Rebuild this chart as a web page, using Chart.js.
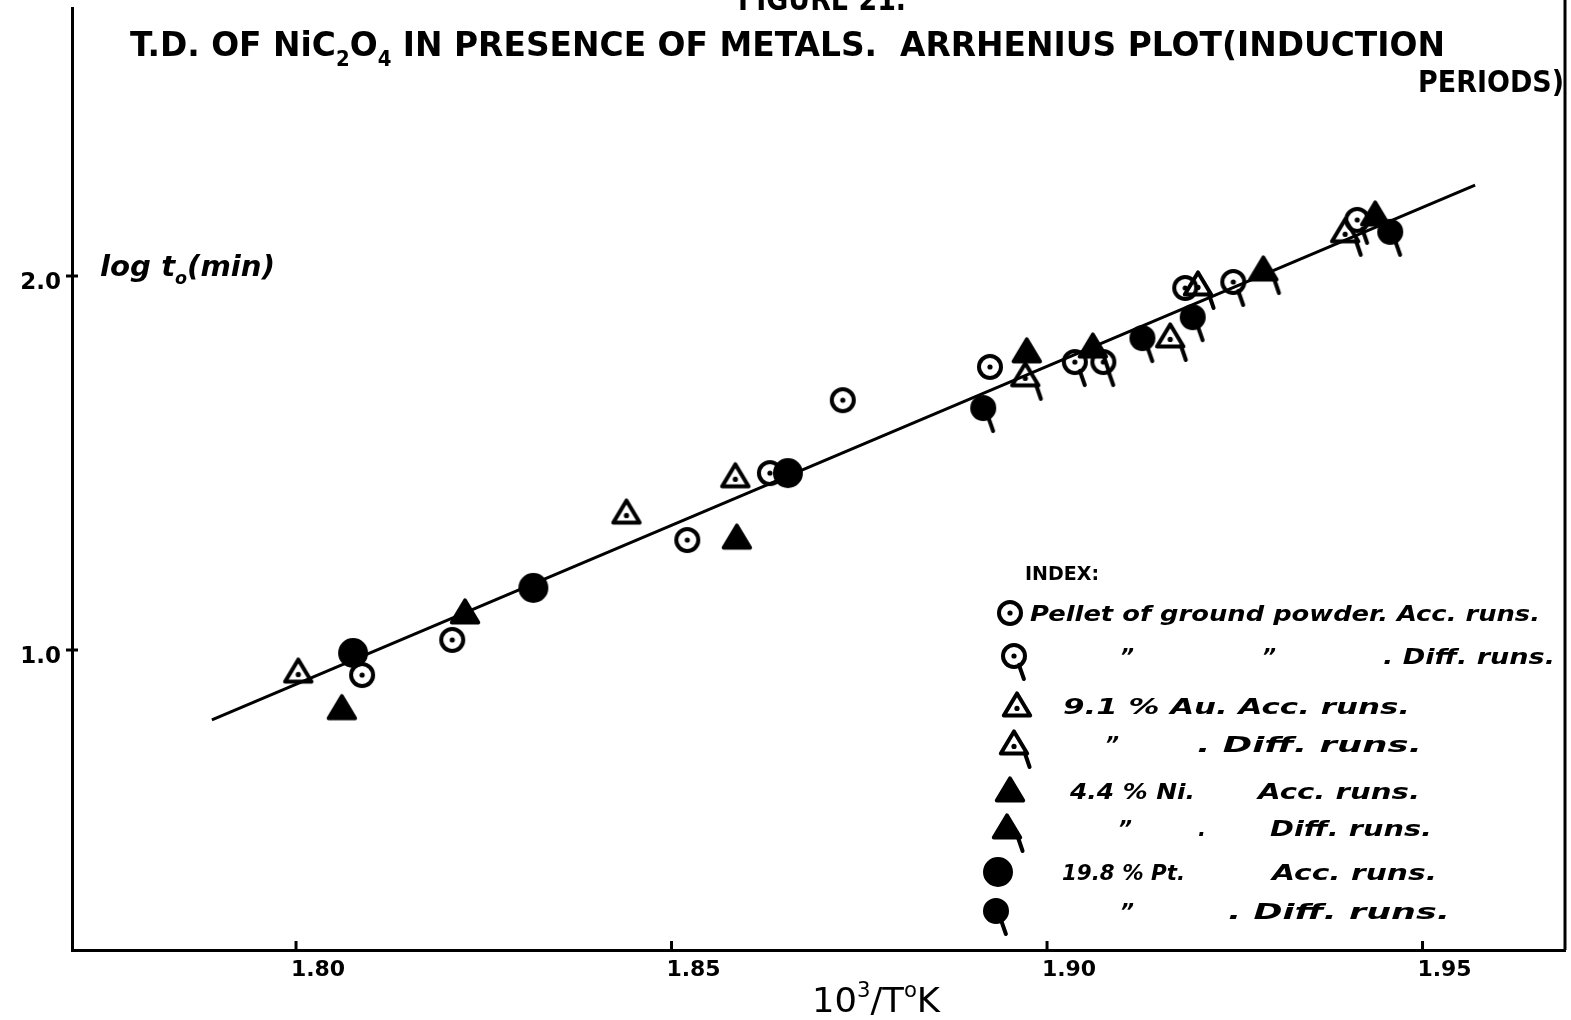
<!DOCTYPE html>
<html>
<head>
<meta charset="utf-8">
<script src="https://cdn.jsdelivr.net/npm/chart.js@4.4.1/dist/chart.umd.min.js"></script>
<style>
  html, body { margin: 0; padding: 0; background: #fff; }
  #wrap { width: 1571px; height: 1020px; }
</style>
</head>
<body>
<div id="wrap"><canvas id="arrhenius" width="1571" height="1020"></canvas></div>
<script>
// Achsenteilung
var xTicks = [1.80, 1.85, 1.90, 1.95];
var xTickLabels = ['1.80', '1.85', '1.90', '1.95'];
var yTicks = [1.0, 2.0];
var yTickLabels = ['1.0', '2.0'];

// Pellet of ground powder, Acc. runs
var pelletAccX = [1.8088, 1.8208, 1.8521, 1.8631, 1.8728, 1.8924, 1.9184];
var pelletAccY = [0.933, 1.027, 1.294, 1.473, 1.668, 1.757, 1.968];
// Pellet, Diff. runs
var pelletDiffX = [1.9037, 1.9075, 1.9248, 1.9413];
var pelletDiffY = [1.770, 1.770, 1.984, 2.150];
// 9.1 % Au, Acc. runs
var auAccX = [1.8003, 1.8440, 1.8585];
var auAccY = [0.941, 1.366, 1.463];
// 9.1 % Au, Diff. runs
var auDiffX = [1.8971, 1.9164, 1.9201, 1.9397];
var auDiffY = [1.733, 1.837, 1.976, 2.118];
// 4.4 % Ni, Acc. runs
var niAccX = [1.8061, 1.8225, 1.8587, 1.8973];
var niAccY = [0.843, 1.099, 1.299, 1.797];
// 4.4 % Ni, Diff. runs
var niDiffX = [1.9061, 1.9288, 1.9437];
var niDiffY = [1.810, 2.016, 2.163];
// 19.8 % Pt, Acc. runs
var ptAccX = [1.8076, 1.8316, 1.8655];
var ptAccY = [0.992, 1.166, 1.473];
// 19.8 % Pt, Diff. runs
var ptDiffX = [1.8915, 1.9127, 1.9194, 1.9457];
var ptDiffY = [1.647, 1.834, 1.890, 2.118];
// Ausgleichsgerade
var fitX = [1.7888, 1.9570];
var fitY = [0.813, 2.243];

function toPoints(xs, ys) {
    var pts = [];
    for (var i = 0; i < xs.length; i++) pts.push({ x: xs[i], y: ys[i] });
    return pts;
}

// Symbole als kleine Canvas-Bilder (Punkt in der Mitte)
function makeSymbol(shape, filled, dot, tail, r) {
    var size = 60;
    var c = document.createElement('canvas');
    c.width = size; c.height = size;
    var g = c.getContext('2d');
    var cx = size / 2, cy = size / 2;
    g.strokeStyle = '#000'; g.fillStyle = '#000';
    g.lineWidth = 4; g.lineCap = 'round'; g.lineJoin = 'round';
    g.beginPath();
    if (shape === 'circle') {
        g.arc(cx, cy, r, 0, Math.PI * 2);
    } else {
        g.moveTo(cx, cy - r * 1.05);
        g.lineTo(cx + r * 1.1, cy + r * 0.8);
        g.lineTo(cx - r * 1.1, cy + r * 0.8);
        g.closePath();
    }
    if (filled) { g.fill(); g.stroke(); } else { g.stroke(); }
    if (dot) {
        g.beginPath();
        g.arc(cx, cy + (shape === 'circle' ? 0 : r * 0.2), 2.6, 0, Math.PI * 2);
        g.fill();
    }
    if (tail) {
        g.beginPath();
        if (shape === 'circle') {
            g.moveTo(cx + r * 0.45, cy + r * 0.8);
            g.lineTo(cx + r * 0.9, cy + r + 12);
        } else {
            g.moveTo(cx + r * 0.9, cy + r * 0.75);
            g.lineTo(cx + r * 1.3, cy + r + 11);
        }
        g.stroke();
    }
    return c;
}

var symPelletAcc = makeSymbol('circle', false, true, false, 11);
var symPelletDiff = makeSymbol('circle', false, true, true, 11);
var symAuAcc = makeSymbol('triangle', false, true, false, 12);
var symAuDiff = makeSymbol('triangle', false, true, true, 12);
var symNiAcc = makeSymbol('triangle', true, false, false, 12);
var symNiDiff = makeSymbol('triangle', true, false, true, 12);
var symPtAcc = makeSymbol('circle', true, false, false, 13);
var symPtDiff = makeSymbol('circle', true, false, true, 11);

function series(label, xs, ys, sym) {
    return {
        type: 'scatter',
        label: label,
        data: toPoints(xs, ys),
        pointStyle: sym,
        pointRadius: 12,
        showLine: false
    };
}

// Text mit Tief-/Hochstellung, horizontal auf Zielbreite gestaucht
function drawRich(ctx, parts, x, y, width, size, style) {
    var fam = '"DejaVu Sans", sans-serif';
    var total = 0;
    parts.forEach(function(p) {
        var s = p.sub || p.sup ? size * 0.6 : size;
        ctx.font = style + ' ' + s + 'px ' + fam;
        p.w = ctx.measureText(p.t).width;
        p.s = s;
        total += p.w;
    });
    ctx.save();
    ctx.translate(x, y);
    ctx.scale(width / total, 1);
    var cx = 0;
    parts.forEach(function(p) {
        ctx.font = style + ' ' + p.s + 'px ' + fam;
        var dy = p.sub ? size * 0.28 : (p.sup ? -size * 0.45 : 0);
        ctx.fillText(p.t, cx, dy);
        cx += p.w;
    });
    ctx.restore();
}

function fit(ctx, text, x, y, width, size, style) {
    drawRich(ctx, [{ t: text }], x, y, width, size, style);
}

var legendRows = [
    { sym: symPelletAcc, sx: 1010, sy: 613, texts: [['Pellet of ground powder. Acc. runs.', 1030, 510]] },
    { sym: symPelletDiff, sx: 1014, sy: 656, texts: [['\u201D', 1120, 14], ['\u201D', 1262, 14], ['. Diff. runs.', 1383, 172]] },
    { sym: symAuAcc, sx: 1017, sy: 706, texts: [['9.1 % Au. Acc. runs.', 1063, 347]] },
    { sym: symAuDiff, sx: 1014, sy: 744, texts: [['\u201D', 1105, 14], ['. Diff. runs.', 1197, 225]] },
    { sym: symNiAcc, sx: 1010, sy: 791, texts: [['4.4 % Ni.', 1070, 125], ['Acc. runs.', 1258, 162]] },
    { sym: symNiDiff, sx: 1007, sy: 828, texts: [['\u201D', 1118, 14], ['.', 1198, 8], ['Diff. runs.', 1270, 162]] },
    { sym: symPtAcc, sx: 998, sy: 872, texts: [['19.8 % Pt.', 1062, 123], ['Acc. runs.', 1272, 165]] },
    { sym: symPtDiff, sx: 996, sy: 911, texts: [['\u201D', 1120, 14], ['. Diff. runs.', 1228, 222]] }
];

var annotations = {
    id: 'annotations',
    afterDraw: function(chart) {
        var ctx = chart.ctx;
        var area = chart.chartArea;
        var xs = chart.scales.x, ys = chart.scales.y;
        ctx.save();
        ctx.fillStyle = '#000';
        ctx.strokeStyle = '#000';
        ctx.textBaseline = 'alphabetic';

        // rechter Rahmen
        ctx.lineWidth = 3;
        ctx.beginPath();
        ctx.moveTo(area.right, 0);
        ctx.lineTo(area.right, area.bottom);
        ctx.stroke();

        // Teilstriche
        ctx.lineWidth = 3;
        xTicks.forEach(function(v) {
            var px = xs.getPixelForValue(v);
            ctx.beginPath();
            ctx.moveTo(px, area.bottom);
            ctx.lineTo(px, area.bottom - 9);
            ctx.stroke();
        });
        yTicks.forEach(function(v) {
            var py = ys.getPixelForValue(v);
            ctx.beginPath();
            ctx.moveTo(area.left - 6, py);
            ctx.lineTo(area.left + 6, py);
            ctx.stroke();
        });

        // Überschrift
        fit(ctx, 'FIGURE 21.', 738, 10, 168, 32, 'bold');
        drawRich(ctx, [
            { t: 'T.D. OF NiC' }, { t: '2', sub: true }, { t: 'O' }, { t: '4', sub: true },
            { t: ' IN PRESENCE OF METALS.  ARRHENIUS PLOT(INDUCTION' }
        ], 130, 56, 1315, 34, 'bold');
        fit(ctx, 'PERIODS)', 1418, 92, 146, 30, 'bold');

        // Achsentitel
        drawRich(ctx, [{ t: 'log t' }, { t: 'o', sub: true }, { t: '(min)' }], 100, 276, 175, 28, 'bold italic');
        drawRich(ctx, [{ t: '10' }, { t: '3', sup: true }, { t: '/T' }, { t: 'o', sup: true }, { t: 'K' }], 812, 1012, 128, 34, '');

        // Index
        fit(ctx, 'INDEX:', 1025, 580, 74, 20, 'bold');
        legendRows.forEach(function(row) {
            ctx.drawImage(row.sym, row.sx - row.sym.width / 2, row.sy - row.sym.height / 2);
            row.texts.forEach(function(t) {
                fit(ctx, t[0], t[1], row.sy + 8, t[2], 22, 'bold italic');
            });
        });
        ctx.restore();
    }
};

function noPadding(scale) {
    scale.paddingTop = 0;
    scale.paddingBottom = 0;
    scale.paddingLeft = 0;
    scale.paddingRight = 0;
}

new Chart(document.getElementById('arrhenius').getContext('2d'), {
    data: {
        datasets: [
            {
                type: 'line',
                label: 'fit',
                data: toPoints(fitX, fitY),
                borderColor: '#000',
                borderWidth: 3,
                pointRadius: 0,
                fill: false,
                tension: 0
            },
            series('Pellet Acc', pelletAccX, pelletAccY, symPelletAcc),
            series('Pellet Diff', pelletDiffX, pelletDiffY, symPelletDiff),
            series('Au Acc', auAccX, auAccY, symAuAcc),
            series('Au Diff', auDiffX, auDiffY, symAuDiff),
            series('Ni Acc', niAccX, niAccY, symNiAcc),
            series('Ni Diff', niDiffX, niDiffY, symNiDiff),
            series('Pt Acc', ptAccX, ptAccY, symPtAcc),
            series('Pt Diff', ptDiffX, ptDiffY, symPtDiff)
        ]
    },
    options: {
        responsive: false,
        animation: false,
        events: [],
        layout: { autoPadding: false, padding: { top: 8, right: 6, left: 0, bottom: 0 } },
        plugins: {
            legend: { display: false },
            tooltip: { enabled: false },
            title: { display: false }
        },
        scales: {
            x: {
                type: 'linear',
                min: 1.77017,
                max: 1.96897,
                afterBuildTicks: function(scale) {
                    scale.ticks = xTicks.map(function(v) { return { value: v }; });
                },
                afterFit: function(scale) { scale.height = 70; noPadding(scale); },
                grid: { display: false, drawTicks: false },
                border: { display: true, color: '#000', width: 3 },
                ticks: {
                    color: '#000',
                    padding: 7,
                    labelOffset: 22,
                    maxRotation: 0,
                    font: { family: '"DejaVu Sans", sans-serif', size: 22, weight: 'bold' },
                    callback: function(v, i) { return xTickLabels[i]; }
                }
            },
            y: {
                type: 'linear',
                min: 0.19786,
                max: 2.7166,
                afterBuildTicks: function(scale) {
                    scale.ticks = yTicks.map(function(v) { return { value: v }; });
                },
                afterFit: function(scale) { scale.width = 72; noPadding(scale); },
                grid: { display: false, drawTicks: false },
                border: { display: true, color: '#000', width: 3 },
                ticks: {
                    color: '#000',
                    padding: 11,
                    labelOffset: 7,
                    font: { family: '"DejaVu Sans", sans-serif', size: 23, weight: 'bold' },
                    callback: function(v, i) { return yTickLabels[i]; }
                }
            }
        }
    },
    plugins: [annotations]
});
</script>
</body>
</html>
